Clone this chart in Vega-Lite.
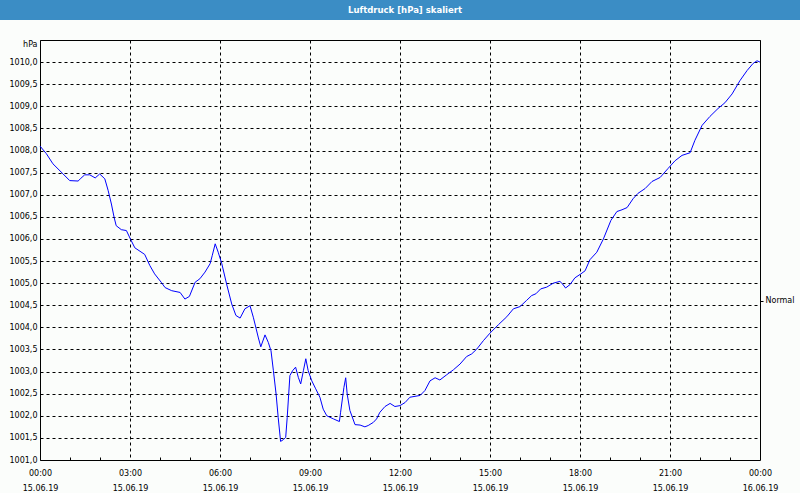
{
  "$schema": "https://vega.github.io/schema/vega-lite/v6.json",
  "background": "#FBFDFB",
  "padding": 0,
  "spacing": 20,
  "columns": 1,
  "bounds": "flush",
  "center": true,
  "config": {
    "font": "DejaVu Sans",
    "view": {"stroke": "black", "strokeWidth": 1}
  },
  "concat": [
    {
      "width": 800,
      "height": 20,
      "view": {"fill": "#3B8DC5", "stroke": null},
      "data": {"values": [{"label": "Luftdruck [hPa] skaliert"}]},
      "mark": {"type": "text", "color": "white", "fontSize": 8.5, "fontWeight": "bold", "font": "DejaVu Sans", "baseline": "middle", "align": "center", "dx": 5},
      "encoding": {"text": {"field": "label", "type": "nominal"}}
    },
    {
      "width": 720,
      "height": 420,
      "data": {"values": [
        {"hour": 0.00, "pressure": 1008.10},
        {"hour": 0.21, "pressure": 1007.93},
        {"hour": 0.43, "pressure": 1007.70},
        {"hour": 0.77, "pressure": 1007.47},
        {"hour": 0.99, "pressure": 1007.32},
        {"hour": 1.27, "pressure": 1007.31},
        {"hour": 1.36, "pressure": 1007.37},
        {"hour": 1.49, "pressure": 1007.45},
        {"hour": 1.66, "pressure": 1007.45},
        {"hour": 1.84, "pressure": 1007.38},
        {"hour": 1.99, "pressure": 1007.47},
        {"hour": 2.16, "pressure": 1007.36},
        {"hour": 2.27, "pressure": 1007.10},
        {"hour": 2.38, "pressure": 1006.79},
        {"hour": 2.47, "pressure": 1006.49},
        {"hour": 2.54, "pressure": 1006.30},
        {"hour": 2.71, "pressure": 1006.21},
        {"hour": 2.88, "pressure": 1006.19},
        {"hour": 3.02, "pressure": 1005.99},
        {"hour": 3.16, "pressure": 1005.80},
        {"hour": 3.49, "pressure": 1005.65},
        {"hour": 3.66, "pressure": 1005.40},
        {"hour": 3.82, "pressure": 1005.21},
        {"hour": 4.04, "pressure": 1005.02},
        {"hour": 4.17, "pressure": 1004.90},
        {"hour": 4.39, "pressure": 1004.83},
        {"hour": 4.67, "pressure": 1004.79},
        {"hour": 4.83, "pressure": 1004.64},
        {"hour": 4.98, "pressure": 1004.70},
        {"hour": 5.17, "pressure": 1005.02},
        {"hour": 5.33, "pressure": 1005.10},
        {"hour": 5.50, "pressure": 1005.25},
        {"hour": 5.67, "pressure": 1005.44},
        {"hour": 5.74, "pressure": 1005.62},
        {"hour": 5.84, "pressure": 1005.89},
        {"hour": 5.94, "pressure": 1005.70},
        {"hour": 6.06, "pressure": 1005.44},
        {"hour": 6.22, "pressure": 1004.98},
        {"hour": 6.39, "pressure": 1004.53},
        {"hour": 6.53, "pressure": 1004.27},
        {"hour": 6.67, "pressure": 1004.21},
        {"hour": 6.83, "pressure": 1004.42},
        {"hour": 7.00, "pressure": 1004.49},
        {"hour": 7.11, "pressure": 1004.23},
        {"hour": 7.28, "pressure": 1003.76},
        {"hour": 7.36, "pressure": 1003.56},
        {"hour": 7.50, "pressure": 1003.83},
        {"hour": 7.61, "pressure": 1003.66},
        {"hour": 7.70, "pressure": 1003.47},
        {"hour": 7.78, "pressure": 1003.02},
        {"hour": 7.87, "pressure": 1002.49},
        {"hour": 7.94, "pressure": 1001.96},
        {"hour": 8.02, "pressure": 1001.42},
        {"hour": 8.11, "pressure": 1001.46},
        {"hour": 8.19, "pressure": 1001.51},
        {"hour": 8.24, "pressure": 1001.96},
        {"hour": 8.33, "pressure": 1002.91},
        {"hour": 8.42, "pressure": 1003.02},
        {"hour": 8.52, "pressure": 1003.10},
        {"hour": 8.61, "pressure": 1002.87},
        {"hour": 8.69, "pressure": 1002.72},
        {"hour": 8.78, "pressure": 1003.02},
        {"hour": 8.86, "pressure": 1003.29},
        {"hour": 8.94, "pressure": 1003.02},
        {"hour": 9.06, "pressure": 1002.79},
        {"hour": 9.19, "pressure": 1002.61},
        {"hour": 9.33, "pressure": 1002.42},
        {"hour": 9.44, "pressure": 1002.15},
        {"hour": 9.56, "pressure": 1002.00},
        {"hour": 9.78, "pressure": 1001.93},
        {"hour": 9.98, "pressure": 1001.87},
        {"hour": 10.02, "pressure": 1002.08},
        {"hour": 10.13, "pressure": 1002.64},
        {"hour": 10.19, "pressure": 1002.86},
        {"hour": 10.24, "pressure": 1002.49},
        {"hour": 10.33, "pressure": 1002.12},
        {"hour": 10.50, "pressure": 1001.80},
        {"hour": 10.67, "pressure": 1001.79},
        {"hour": 10.83, "pressure": 1001.75},
        {"hour": 10.94, "pressure": 1001.78},
        {"hour": 11.11, "pressure": 1001.85},
        {"hour": 11.22, "pressure": 1001.93},
        {"hour": 11.33, "pressure": 1002.08},
        {"hour": 11.50, "pressure": 1002.21},
        {"hour": 11.67, "pressure": 1002.28},
        {"hour": 11.83, "pressure": 1002.21},
        {"hour": 12.00, "pressure": 1002.23},
        {"hour": 12.17, "pressure": 1002.30},
        {"hour": 12.33, "pressure": 1002.42},
        {"hour": 12.67, "pressure": 1002.46},
        {"hour": 12.83, "pressure": 1002.57},
        {"hour": 13.00, "pressure": 1002.79},
        {"hour": 13.17, "pressure": 1002.86},
        {"hour": 13.33, "pressure": 1002.81},
        {"hour": 13.56, "pressure": 1002.93},
        {"hour": 13.78, "pressure": 1003.04},
        {"hour": 14.00, "pressure": 1003.17},
        {"hour": 14.22, "pressure": 1003.34},
        {"hour": 14.39, "pressure": 1003.40},
        {"hour": 14.56, "pressure": 1003.51},
        {"hour": 14.78, "pressure": 1003.70},
        {"hour": 15.00, "pressure": 1003.87},
        {"hour": 15.28, "pressure": 1004.06},
        {"hour": 15.56, "pressure": 1004.24},
        {"hour": 15.78, "pressure": 1004.42},
        {"hour": 16.00, "pressure": 1004.47},
        {"hour": 16.22, "pressure": 1004.61},
        {"hour": 16.39, "pressure": 1004.72},
        {"hour": 16.53, "pressure": 1004.76},
        {"hour": 16.69, "pressure": 1004.87},
        {"hour": 16.89, "pressure": 1004.91},
        {"hour": 17.11, "pressure": 1005.00},
        {"hour": 17.33, "pressure": 1005.04},
        {"hour": 17.42, "pressure": 1004.98},
        {"hour": 17.52, "pressure": 1004.89},
        {"hour": 17.67, "pressure": 1004.97},
        {"hour": 17.83, "pressure": 1005.12},
        {"hour": 18.03, "pressure": 1005.21},
        {"hour": 18.17, "pressure": 1005.28},
        {"hour": 18.33, "pressure": 1005.53},
        {"hour": 18.56, "pressure": 1005.70},
        {"hour": 18.78, "pressure": 1006.00},
        {"hour": 19.03, "pressure": 1006.42},
        {"hour": 19.23, "pressure": 1006.62},
        {"hour": 19.40, "pressure": 1006.66},
        {"hour": 19.57, "pressure": 1006.71},
        {"hour": 19.77, "pressure": 1006.91},
        {"hour": 19.93, "pressure": 1007.03},
        {"hour": 20.17, "pressure": 1007.14},
        {"hour": 20.40, "pressure": 1007.30},
        {"hour": 20.67, "pressure": 1007.39},
        {"hour": 20.93, "pressure": 1007.59},
        {"hour": 21.17, "pressure": 1007.77},
        {"hour": 21.40, "pressure": 1007.89},
        {"hour": 21.67, "pressure": 1007.95},
        {"hour": 21.83, "pressure": 1008.23},
        {"hour": 22.07, "pressure": 1008.57},
        {"hour": 22.33, "pressure": 1008.77},
        {"hour": 22.60, "pressure": 1008.95},
        {"hour": 22.83, "pressure": 1009.08},
        {"hour": 23.07, "pressure": 1009.28},
        {"hour": 23.33, "pressure": 1009.58},
        {"hour": 23.57, "pressure": 1009.81},
        {"hour": 23.77, "pressure": 1009.97},
        {"hour": 23.90, "pressure": 1010.03},
        {"hour": 24.00, "pressure": 1010.00}
      ]},
      "layer": [
        {
          "mark": {"type": "line", "color": "#0000FF", "strokeWidth": 1},
          "encoding": {
            "x": {
              "field": "hour",
              "type": "quantitative",
              "title": null,
              "scale": {"domain": [0, 24], "nice": false, "zero": false},
              "axis": {
                "orient": "bottom",
                "values": [0, 3, 6, 9, 12, 15, 18, 21, 24],
                "labelExpr": "[(datum.value % 24 < 10 ? '0' : '') + (datum.value % 24) + ':00', datum.value < 24 ? '15.06.19' : '16.06.19']",
                "labelOverlap": false,
                "labelFlush": false,
                "labelFont": "DejaVu Sans",
                "labelFontSize": 8,
                "labelColor": "black",
                "labelLineHeight": 15,
                "labelPadding": 9,
                "labelBaseline": "top",
                "domain": false,
                "ticks": false,
                "grid": true,
                "gridColor": "black",
                "gridDash": [3, 3],
                "gridWidth": 1
              }
            },
            "y": {
              "field": "pressure",
              "type": "quantitative",
              "scale": {"domain": [1001, 1010.5], "nice": false, "zero": false},
              "axis": {
                "orient": "left",
                "values": [1001, 1001.5, 1002, 1002.5, 1003, 1003.5, 1004, 1004.5, 1005, 1005.5, 1006, 1006.5, 1007, 1007.5, 1008, 1008.5, 1009, 1009.5, 1010],
                "labelExpr": "replace(format(datum.value, '.1f'), '.', ',')",
                "labelFont": "DejaVu Sans",
                "labelFontSize": 8,
                "labelColor": "black",
                "labelPadding": 3,
                "ticks": false,
                "domain": false,
                "grid": true,
                "gridColor": "black",
                "gridDash": [3, 3],
                "gridWidth": 1,
                "title": "hPa",
                "titleAngle": 0,
                "titleAlign": "right",
                "titleBaseline": "middle",
                "titleFont": "DejaVu Sans",
                "titleFontSize": 8,
                "titleFontWeight": "normal",
                "titleColor": "black",
                "titleX": -3,
                "titleY": 4
              }
            }
          }
        },
        {
          "mark": {"type": "line", "opacity": 0},
          "encoding": {
            "x": {
              "field": "hour",
              "type": "quantitative",
              "title": null,
              "scale": {"domain": [0, 24], "nice": false, "zero": false},
              "axis": {
                "orient": "bottom",
                "values": [1, 2, 4, 5, 7, 8, 10, 11, 13, 14, 16, 17, 19, 20, 22, 23],
                "labels": false,
                "domain": false,
                "grid": false,
                "ticks": true,
                "tickSize": -3,
                "tickColor": "black",
                "tickWidth": 1
              }
            },
            "y": {
              "field": "pressure",
              "type": "quantitative",
              "scale": {"domain": [1001, 1010.5], "nice": false, "zero": false},
              "axis": {
                "orient": "right",
                "values": [1004.6],
                "labelExpr": "'Normal'",
                "labelFont": "DejaVu Sans",
                "labelFontSize": 8,
                "labelColor": "black",
                "labelPadding": 2,
                "ticks": true,
                "tickSize": 3,
                "tickColor": "black",
                "domain": false,
                "grid": false,
                "title": null
              }
            }
          }
        }
      ],
      "resolve": {"axis": {"x": "independent", "y": "independent"}}
    }
  ]
}
